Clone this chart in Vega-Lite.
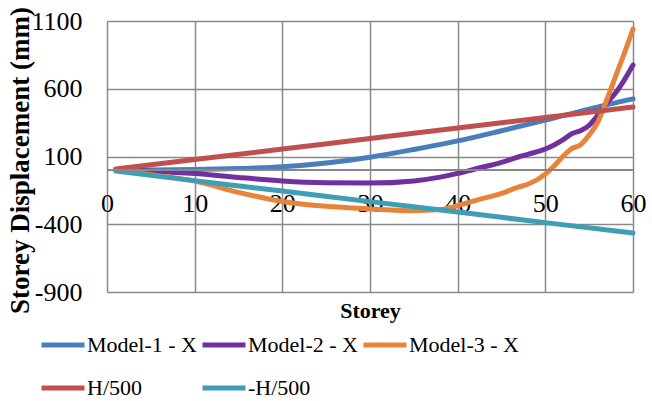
{
  "$schema": "https://vega.github.io/schema/vega-lite/v6.json",
  "autosize": {"type": "none"},
  "width": 526,
  "height": 271,
  "padding": {"left": 107, "top": 21, "right": 19, "bottom": 109},
  "background": "#ffffff",
  "config": {
    "font": "Liberation Serif",
    "view": {"stroke": null},
    "axis": {"gridColor": "#898989", "gridWidth": 1.5, "gridOpacity": 1}
  },
  "data": {
    "values": [
      {"storey": 1, "series": "Model-1 - X", "disp": 0},
      {"storey": 5, "series": "Model-1 - X", "disp": 1},
      {"storey": 10, "series": "Model-1 - X", "disp": 4},
      {"storey": 15, "series": "Model-1 - X", "disp": 11},
      {"storey": 20, "series": "Model-1 - X", "disp": 24},
      {"storey": 25, "series": "Model-1 - X", "disp": 52},
      {"storey": 30, "series": "Model-1 - X", "disp": 95},
      {"storey": 35, "series": "Model-1 - X", "disp": 152},
      {"storey": 40, "series": "Model-1 - X", "disp": 215},
      {"storey": 45, "series": "Model-1 - X", "disp": 290},
      {"storey": 50, "series": "Model-1 - X", "disp": 368},
      {"storey": 55, "series": "Model-1 - X", "disp": 450},
      {"storey": 60, "series": "Model-1 - X", "disp": 525},

      {"storey": 1, "series": "Model-2 - X", "disp": 0},
      {"storey": 5, "series": "Model-2 - X", "disp": -8},
      {"storey": 10, "series": "Model-2 - X", "disp": -25},
      {"storey": 15, "series": "Model-2 - X", "disp": -55},
      {"storey": 20, "series": "Model-2 - X", "disp": -80},
      {"storey": 25, "series": "Model-2 - X", "disp": -93},
      {"storey": 30, "series": "Model-2 - X", "disp": -96},
      {"storey": 35, "series": "Model-2 - X", "disp": -80},
      {"storey": 38, "series": "Model-2 - X", "disp": -52},
      {"storey": 40, "series": "Model-2 - X", "disp": -25},
      {"storey": 42, "series": "Model-2 - X", "disp": 8},
      {"storey": 45, "series": "Model-2 - X", "disp": 57},
      {"storey": 47, "series": "Model-2 - X", "disp": 98},
      {"storey": 48, "series": "Model-2 - X", "disp": 116},
      {"storey": 50, "series": "Model-2 - X", "disp": 155},
      {"storey": 51, "series": "Model-2 - X", "disp": 185},
      {"storey": 52, "series": "Model-2 - X", "disp": 222},
      {"storey": 53, "series": "Model-2 - X", "disp": 268},
      {"storey": 54, "series": "Model-2 - X", "disp": 290},
      {"storey": 55, "series": "Model-2 - X", "disp": 330},
      {"storey": 56, "series": "Model-2 - X", "disp": 405},
      {"storey": 57, "series": "Model-2 - X", "disp": 494},
      {"storey": 58, "series": "Model-2 - X", "disp": 568},
      {"storey": 59, "series": "Model-2 - X", "disp": 664},
      {"storey": 60, "series": "Model-2 - X", "disp": 775},

      {"storey": 1, "series": "Model-3 - X", "disp": 0},
      {"storey": 5, "series": "Model-3 - X", "disp": -35},
      {"storey": 10, "series": "Model-3 - X", "disp": -82},
      {"storey": 15, "series": "Model-3 - X", "disp": -165},
      {"storey": 20, "series": "Model-3 - X", "disp": -232},
      {"storey": 25, "series": "Model-3 - X", "disp": -268},
      {"storey": 30, "series": "Model-3 - X", "disp": -287},
      {"storey": 35, "series": "Model-3 - X", "disp": -300},
      {"storey": 38, "series": "Model-3 - X", "disp": -292},
      {"storey": 40, "series": "Model-3 - X", "disp": -262},
      {"storey": 42, "series": "Model-3 - X", "disp": -225},
      {"storey": 45, "series": "Model-3 - X", "disp": -172},
      {"storey": 47, "series": "Model-3 - X", "disp": -125},
      {"storey": 48, "series": "Model-3 - X", "disp": -105},
      {"storey": 50, "series": "Model-3 - X", "disp": -30},
      {"storey": 51, "series": "Model-3 - X", "disp": 30},
      {"storey": 52, "series": "Model-3 - X", "disp": 100},
      {"storey": 53, "series": "Model-3 - X", "disp": 158},
      {"storey": 54, "series": "Model-3 - X", "disp": 185},
      {"storey": 55, "series": "Model-3 - X", "disp": 258},
      {"storey": 56, "series": "Model-3 - X", "disp": 356},
      {"storey": 57, "series": "Model-3 - X", "disp": 517},
      {"storey": 58, "series": "Model-3 - X", "disp": 690},
      {"storey": 59, "series": "Model-3 - X", "disp": 860},
      {"storey": 60, "series": "Model-3 - X", "disp": 1040},

      {"storey": 1, "series": "H/500", "disp": 8},
      {"storey": 10, "series": "H/500", "disp": 78},
      {"storey": 20, "series": "H/500", "disp": 155},
      {"storey": 30, "series": "H/500", "disp": 233},
      {"storey": 40, "series": "H/500", "disp": 310},
      {"storey": 50, "series": "H/500", "disp": 388},
      {"storey": 60, "series": "H/500", "disp": 465},

      {"storey": 1, "series": "-H/500", "disp": -8},
      {"storey": 10, "series": "-H/500", "disp": -78},
      {"storey": 20, "series": "-H/500", "disp": -155},
      {"storey": 30, "series": "-H/500", "disp": -233},
      {"storey": 40, "series": "-H/500", "disp": -310},
      {"storey": 50, "series": "-H/500", "disp": -388},
      {"storey": 60, "series": "-H/500", "disp": -465}
    ]
  },
  "layer": [
    {
      "mark": {"type": "line", "strokeWidth": 5, "interpolate": "monotone", "strokeCap": "round", "clip": false},
      "encoding": {
        "x": {
          "field": "storey",
          "type": "quantitative",
          "scale": {"domain": [0, 60], "nice": false, "zero": false},
          "axis": {
            "orient": "bottom",
            "values": [0, 10, 20, 30, 40, 50, 60],
            "grid": true,
            "labels": false,
            "ticks": false,
            "domain": false,
            "title": "Storey",
            "titleFont": "Liberation Serif",
            "titleFontSize": 22,
            "titleFontWeight": "bold",
            "titleColor": "#000000",
            "titlePadding": 8
          }
        },
        "y": {
          "field": "disp",
          "type": "quantitative",
          "scale": {"domain": [-900, 1100], "nice": false, "zero": false},
          "axis": {
            "values": [-900, -400, 100, 600, 1100],
            "labelExpr": "'' + datum.value",
            "grid": true,
            "domain": false,
            "ticks": false,
            "labelFont": "Liberation Serif",
            "labelFontSize": 26,
            "labelColor": "#000000",
            "labelPadding": 25,
            "title": "Storey Displacement (mm)",
            "titleFont": "Liberation Serif",
            "titleFontSize": 27,
            "titleFontWeight": "bold",
            "titleColor": "#000000",
            "titleX": -87,
            "titleY": 139,
            "titleBaseline": "middle",
            "titleAngle": -90
          }
        },
        "color": {
          "field": "series",
          "type": "nominal",
          "sort": null,
          "scale": {
            "domain": ["Model-1 - X", "Model-2 - X", "Model-3 - X", "H/500", "-H/500"],
            "range": ["#4A7EBB", "#7030A0", "#E8843A", "#C0504D", "#3F9DB6"]
          },
          "legend": {
            "title": null,
            "orient": "none",
            "legendX": -68,
            "legendY": 300,
            "direction": "horizontal",
            "columns": 3,
            "gridAlign": "all",
            "columnPadding": -5,
            "rowPadding": 8,
            "padding": 0,
            "symbolType": "stroke",
            "symbolSize": 1849,
            "symbolStrokeWidth": 5,
            "labelFont": "Liberation Serif",
            "labelFontSize": 22,
            "labelColor": "#000000",
            "labelOffset": 0,
            "labelLimit": 300
          }
        }
      }
    },
    {
      "mark": {"type": "rule", "color": "#898989", "strokeWidth": 1.5},
      "encoding": {
        "y": {"datum": 0, "type": "quantitative"}
      }
    },
    {
      "mark": {"type": "text", "opacity": 0},
      "encoding": {
        "x": {
          "field": "storey",
          "type": "quantitative",
          "axis": {
            "orient": "bottom",
            "values": [0, 10, 20, 30, 40, 50, 60],
            "labelExpr": "'' + datum.value",
            "grid": false,
            "domain": false,
            "ticks": false,
            "offset": -122,
            "labelFont": "Liberation Serif",
            "labelFontSize": 26,
            "labelColor": "#000000",
            "labelPadding": 20,
            "labelFlush": false,
            "title": null
          }
        }
      }
    }
  ],
  "resolve": {"axis": {"x": "independent"}}
}
